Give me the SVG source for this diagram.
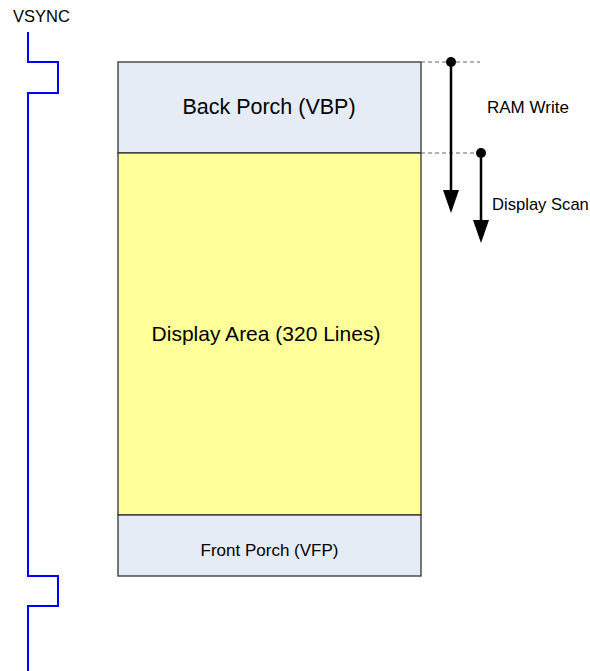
<svg xmlns="http://www.w3.org/2000/svg" width="590" height="671" viewBox="0 0 590 671">
<style>
text{font-family:"Liberation Sans",Arial,sans-serif;fill:#000}
.box{stroke:#333;stroke-width:1.3}
.dash{stroke:#666;stroke-width:1;stroke-dasharray:4,3;fill:none}
.arr{stroke:#000;stroke-width:2.5;fill:none}
</style>
<rect width="590" height="671" fill="#fff"/>
<g id="vsync">
<text x="13" y="22" font-size="16.5">VSYNC</text>
<path d="M28,32 V62 H58 V93 H28 V576 H58 V606 H28 V671" fill="none" stroke="#0000ff" stroke-width="2"/>
</g>
<g id="back-porch">
<rect class="box" x="118" y="62" width="303" height="91" fill="#e6ecf6"/>
<text x="269" y="114" font-size="21.5" text-anchor="middle">Back Porch (VBP)</text>
</g>
<g id="display-area">
<rect class="box" x="118" y="153" width="303" height="362" fill="#ffff99"/>
<text x="266" y="341" font-size="21" text-anchor="middle">Display Area (320 Lines)</text>
</g>
<g id="front-porch">
<rect class="box" x="118" y="515" width="303" height="61" fill="#e6ecf6"/>
<text x="269.5" y="556" font-size="17" text-anchor="middle">Front Porch (VFP)</text>
</g>
<g id="connectors">
<line class="dash" x1="421" y1="62" x2="480" y2="62"/>
<line class="dash" x1="421" y1="153" x2="476" y2="153"/>
<circle cx="451" cy="62" r="5" fill="#000"/>
<path class="arr" d="M451,62 V198"/>
<path d="M443,190 L459,190 L451,213 Z" fill="#000"/>
<circle cx="481" cy="153" r="5" fill="#000"/>
<path class="arr" d="M481,153 V228"/>
<path d="M473,220 L489,220 L481,243 Z" fill="#000"/>
</g>
<g id="labels">
<text x="487" y="113" font-size="17">RAM Write</text>
<text x="492" y="210" font-size="16.6">Display Scan</text>
</g>
</svg>
